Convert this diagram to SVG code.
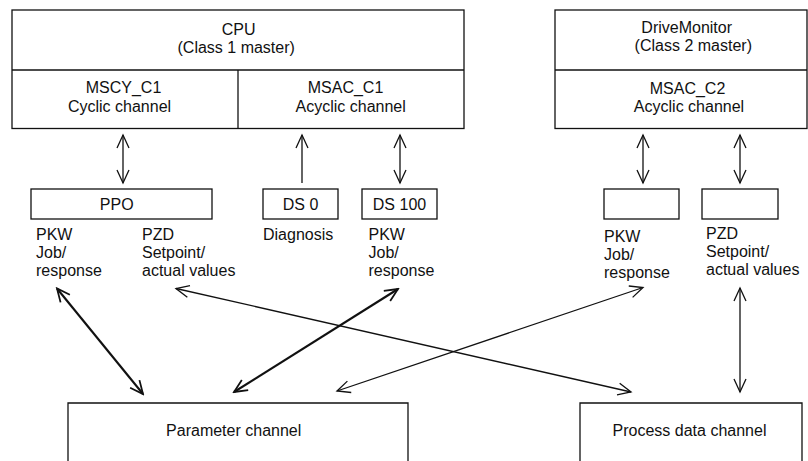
<svg xmlns="http://www.w3.org/2000/svg" width="808" height="461" viewBox="0 0 808 461">
<style>
  .box { fill: #fff; stroke: #111; stroke-width: 1.3; }
  .sep { stroke: #111; stroke-width: 1.3; fill: none; }
  text { font-family: "Liberation Sans", Arial, sans-serif; font-size: 16px; fill: #111; }
  .c { text-anchor: middle; }
  .thin { stroke: #111; stroke-width: 1.3; fill: none; marker-start: url(#ah); marker-end: url(#ah); }
  .thick { stroke: #111; stroke-width: 2.1; fill: none; marker-start: url(#ahb); marker-end: url(#ahb); }
  .up { stroke: #111; stroke-width: 1.3; fill: none; marker-end: url(#ah); }
</style>
<defs>
  <marker id="ah" viewBox="-15 -8 17 16" refX="0" refY="0" markerWidth="17" markerHeight="16" markerUnits="userSpaceOnUse" orient="auto-start-reverse">
    <path d="M-13,-6 L0,0 L-13,6" fill="none" stroke="#111" stroke-width="1.3"/>
  </marker>
  <marker id="ahb" viewBox="-15 -8 17 16" refX="0" refY="0" markerWidth="17" markerHeight="16" markerUnits="userSpaceOnUse" orient="auto-start-reverse">
    <path d="M-13,-6 L0,0 L-13,6" fill="none" stroke="#111" stroke-width="1.8"/>
  </marker>
</defs>
<rect width="808" height="461" fill="#fff"/>

<g id="cpu">
  <rect class="box" x="12" y="10" width="452" height="118.5"/>
  <line class="sep" x1="12" y1="70" x2="464" y2="70"/>
  <line class="sep" x1="238" y1="70" x2="238" y2="128.5"/>
  <text class="c" x="238.7" y="34.5">CPU</text>
  <text class="c" x="236.2" y="52.5">(Class 1 master)</text>
  <text class="c" x="123.5" y="92.5">MSCY_C1</text>
  <text class="c" x="119.5" y="111.5">Cyclic channel</text>
  <text class="c" x="345.5" y="92.5">MSAC_C1</text>
  <text class="c" x="350.7" y="111.5">Acyclic channel</text>
</g>

<g id="drivemonitor">
  <rect class="box" x="555" y="10" width="252" height="118.5"/>
  <line class="sep" x1="555" y1="70" x2="807" y2="70"/>
  <text class="c" x="686.7" y="32.5">DriveMonitor</text>
  <text class="c" x="693.3" y="51">(Class 2 master)</text>
  <text class="c" x="687.5" y="93.5">MSAC_C2</text>
  <text class="c" x="689" y="111.5">Acyclic channel</text>
</g>

<g id="ppo">
  <rect class="box" x="31" y="189" width="181" height="30"/>
  <text class="c" x="116.7" y="209.5">PPO</text>
  <text x="36" y="240">PKW</text>
  <text x="36" y="258">Job/</text>
  <text x="36" y="276">response</text>
  <text x="142" y="240">PZD</text>
  <text x="142" y="258">Setpoint/</text>
  <text x="142" y="276">actual values</text>
</g>

<g id="ds0">
  <rect class="box" x="263" y="189" width="75" height="30"/>
  <text class="c" x="300.5" y="209.5">DS 0</text>
  <text x="263" y="240">Diagnosis</text>
</g>

<g id="ds100">
  <rect class="box" x="362" y="189" width="75" height="30"/>
  <text class="c" x="399.5" y="209.5">DS 100</text>
  <text x="368.5" y="240">PKW</text>
  <text x="368.5" y="258">Job/</text>
  <text x="368.5" y="276">response</text>
</g>

<g id="dm-pkw">
  <rect class="box" x="604" y="189" width="75" height="30"/>
  <text x="604" y="241.5">PKW</text>
  <text x="604" y="259.5">Job/</text>
  <text x="604" y="277.5">response</text>
</g>

<g id="dm-pzd">
  <rect class="box" x="702" y="189" width="76" height="30"/>
  <text x="706" y="238.5">PZD</text>
  <text x="706" y="256.5">Setpoint/</text>
  <text x="706" y="274.5">actual values</text>
</g>

<g id="parameter-channel">
  <path class="sep" d="M68,462 V403 H408 V462"/>
  <text class="c" x="233.7" y="436">Parameter channel</text>
</g>

<g id="process-data-channel">
  <path class="sep" d="M580,462 V403 H802 V462"/>
  <text class="c" x="689.5" y="436">Process data channel</text>
</g>

<g id="connectors">
  <line class="thin" x1="123" y1="135" x2="123" y2="183"/>
  <line class="up" x1="302" y1="183" x2="302" y2="135"/>
  <line class="thin" x1="400" y1="135" x2="400" y2="183"/>
  <line class="thin" x1="643" y1="135" x2="643" y2="183"/>
  <line class="thin" x1="740" y1="135" x2="740" y2="183"/>

  <line class="thick" x1="57" y1="288.5" x2="143" y2="394"/>
  <line class="thick" x1="398" y1="289" x2="234" y2="392"/>
  <line class="thin" x1="176" y1="288.5" x2="631" y2="392"/>
  <line class="thin" x1="643" y1="287.5" x2="337" y2="391"/>
  <line class="thin" x1="740" y1="288" x2="740" y2="392"/>
</g>
</svg>
